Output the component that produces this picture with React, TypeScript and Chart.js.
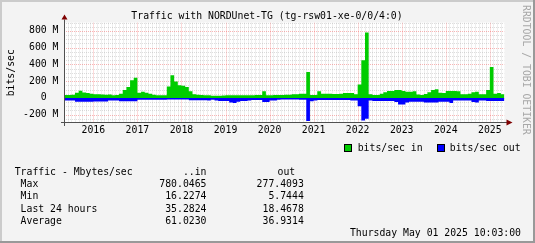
import { useEffect, useRef } from 'react';
import { Chart, registerables } from 'chart.js';

Chart.register(...registerables);

const TITLE = 'Traffic with NORDUnet-TG (tg-rsw01-xe-0/0/4:0)';
const Y_TITLE = 'bits/sec';
const WATERMARK = 'RRDTOOL / TOBI OETIKER';
const TIMESTAMP = 'Thursday May 01 2025 10:03:00';

// monthly buckets, starting May 2015
const START_YEAR = 2015;
const START_MONTH = 4;

// bits/sec in, in M
const inTraffic = [
  34, 34, 36, 60, 85, 65, 58, 50, 42, 42,
  40, 36, 40, 32, 34, 50, 95, 130, 210, 240,
  62, 72, 60, 50, 36, 32, 30, 32, 135, 270,
  195, 150, 145, 130, 80, 42, 36, 34, 30, 30,
  26, 26, 26, 28, 30, 30, 30, 30, 30, 30,
  30, 32, 34, 34, 78, 30, 30, 34, 34, 34,
  36, 36, 42, 42, 50, 50, 310, 34, 34, 78,
  50, 50, 50, 46, 46, 50, 58, 58, 58, 42,
  160, 450, 780, 42, 34, 34, 50, 66, 82, 82,
  95, 95, 82, 74, 74, 78, 40, 34, 45, 66,
  95, 102, 62, 58, 82, 82, 82, 78, 42, 42,
  50, 66, 74, 42, 42, 95, 370, 50, 58, 42,
];

// bits/sec out, in M (drawn below zero)
const outTraffic = [
  -30, -30, -30, -45, -45, -45, -45, -45, -42, -42,
  -42, -42, -30, -30, -30, -40, -40, -40, -40, -40,
  -22, -22, -22, -22, -22, -22, -22, -22, -20, -20,
  -20, -20, -20, -20, -28, -28, -28, -28, -28, -30,
  -22, -30, -38, -38, -38, -54, -60, -46, -38, -38,
  -30, -26, -26, -26, -50, -50, -30, -30, -22, -18,
  -18, -18, -18, -18, -22, -22, -277, -40, -30, -26,
  -26, -26, -26, -26, -26, -26, -26, -26, -30, -30,
  -100, -270, -250, -30, -38, -38, -38, -38, -38, -38,
  -50, -78, -80, -54, -46, -46, -46, -46, -54, -54,
  -54, -54, -46, -46, -46, -62, -30, -30, -30, -30,
  -30, -50, -54, -30, -30, -38, -38, -38, -38, -38,
];

const seriesLabels = ['bits/sec in', 'bits/sec out'];
const seriesColors = ['#00cc00', '#0000ff'];

const yearTicks = [2016, 2017, 2018, 2019, 2020, 2021, 2022, 2023, 2024, 2025];
const yTicks = [-200, 0, 200, 400, 600, 800];
const Y_MIN = -300;
const Y_MAX = 900;
const Y_MINOR = 50;

const statHeader = ['Traffic - Mbytes/sec', '..in', 'out'];
const statRows = ['Max', 'Min', 'Last 24 hours', 'Average'];
const statIn = ['780.0465', '16.2274', '35.2824', '61.0230'];
const statOut = ['277.4093', '5.7444', '18.4678', '36.9314'];

const FAMILY = '"DejaVu Sans Mono", monospace';
const FS = 9.8;
const font = (s: number = FS) => `${s}px ${FAMILY}`;

const monthX = (i: number) => START_YEAR + (START_MONTH + i) / 12;
const toPoints = (arr: number[]) => {
  const pts = arr.map((v, i) => ({ x: monthX(i), y: v }));
  pts.push({ x: monthX(arr.length), y: arr[arr.length - 1] });
  return pts;
};

const X_MIN = monthX(0);
const X_MAX = monthX(inTraffic.length);

const rrdPlugin = {
  id: 'rrdLook',
  beforeDraw(chart: any) {
    const { ctx, width, height, chartArea: a } = chart;
    ctx.save();
    ctx.fillStyle = '#f3f3f3';
    ctx.fillRect(0, 0, width, height);
    ctx.fillStyle = '#ffffff';
    ctx.fillRect(a.left, a.top, a.right - a.left, a.bottom - a.top);
    ctx.restore();
  },
  beforeDatasetsDraw(chart: any) {
    const { ctx, chartArea: a, scales } = chart;
    const xs = scales.x;
    const ys = scales.y;
    ctx.save();
    ctx.beginPath();
    ctx.rect(a.left, a.top, a.right - a.left, a.bottom - a.top);
    ctx.clip();
    ctx.lineWidth = 1;
    ctx.setLineDash([1, 1]);
    const hline = (v: number) => {
      const py = Math.round(ys.getPixelForValue(v)) + 0.5;
      ctx.beginPath();
      ctx.moveTo(a.left, py);
      ctx.lineTo(a.right, py);
      ctx.stroke();
    };
    const vline = (v: number) => {
      const px = Math.round(xs.getPixelForValue(v)) + 0.5;
      ctx.beginPath();
      ctx.moveTo(px, a.top);
      ctx.lineTo(px, a.bottom);
      ctx.stroke();
    };
    // minor grid
    ctx.strokeStyle = 'rgba(150,150,150,0.32)';
    for (let v = Y_MIN; v <= Y_MAX; v += Y_MINOR) {
      if (!yTicks.includes(v)) hline(v);
    }
    for (let m = 0; m <= inTraffic.length; m++) {
      if ((START_MONTH + m) % 12 !== 0) vline(monthX(m));
    }
    // major grid
    ctx.strokeStyle = 'rgba(240,60,60,0.38)';
    yTicks.forEach(hline);
    yearTicks.forEach(vline);
    ctx.restore();
  },
  afterDatasetsDraw(chart: any) {
    const { ctx, chartArea: a } = chart;
    ctx.save();
    ctx.setLineDash([]);
    ctx.lineWidth = 1;
    ctx.strokeStyle = '#505050';
    const axY = a.bottom + 0.5 - 1;
    const axX = a.left + 0.5;
    ctx.beginPath();
    ctx.moveTo(a.left - 3, axY);
    ctx.lineTo(a.right + 3, axY);
    ctx.moveTo(axX, a.bottom + 3);
    ctx.lineTo(axX, a.top - 3);
    ctx.stroke();
    ctx.fillStyle = '#7f0000';
    ctx.beginPath();
    ctx.moveTo(a.right + 2, axY - 3);
    ctx.lineTo(a.right + 8, axY);
    ctx.lineTo(a.right + 2, axY + 3);
    ctx.closePath();
    ctx.fill();
    ctx.beginPath();
    ctx.moveTo(axX - 3, a.top - 3);
    ctx.lineTo(axX, a.top - 8);
    ctx.lineTo(axX + 3, a.top - 3);
    ctx.closePath();
    ctx.fill();
    ctx.restore();
  },
  afterDraw(chart: any) {
    const { ctx, width, height } = chart;
    ctx.save();
    ctx.font = font();
    ctx.fillStyle = '#000';
    ctx.textBaseline = 'alphabetic';
    ctx.textAlign = 'center';
    ctx.fillText(TITLE, 267, 19);

    // legend
    ctx.textAlign = 'left';
    const legendBoxes = [344.5, 437.5];
    const legendText = [357.7, 449.8];
    seriesLabels.forEach((lab, i) => {
      ctx.fillStyle = seriesColors[i];
      ctx.fillRect(legendBoxes[i], 144.5, 7, 7);
      ctx.strokeStyle = '#000';
      ctx.lineWidth = 1;
      ctx.strokeRect(legendBoxes[i], 144.5, 7, 7);
      ctx.fillStyle = '#000';
      ctx.fillText(lab, legendText[i], 150.5);
    });

    // stats table
    const base0 = 174.6;
    const step = 12.3;
    ctx.textAlign = 'left';
    ctx.fillText(statHeader[0], 14.7, base0);
    ctx.textAlign = 'right';
    ctx.fillText(statHeader[1], 206.5, base0);
    ctx.fillText(statHeader[2], 295.2, base0);
    statRows.forEach((r, i) => {
      const by = base0 + step * (i + 1);
      ctx.textAlign = 'left';
      ctx.fillText(r, 20.6, by);
      ctx.textAlign = 'right';
      ctx.fillText(statIn[i], 206.5, by);
      ctx.fillText(statOut[i], 303.8, by);
    });
    ctx.fillText(TIMESTAMP, 521, base0 + step * 5);

    // watermark
    ctx.save();
    ctx.translate(526, 5);
    ctx.rotate(Math.PI / 2);
    ctx.textAlign = 'left';
    ctx.textBaseline = 'middle';
    ctx.fillStyle = '#a8a8a8';
    ctx.fillText(WATERMARK, 0, 0);
    ctx.restore();

    // frame shading
    ctx.fillStyle = '#cbcbcb';
    ctx.fillRect(0, 0, width, 2);
    ctx.fillRect(0, 0, 2, height);
    ctx.fillStyle = '#999999';
    ctx.fillRect(0, height - 2, width, 2);
    ctx.fillRect(width - 2, 0, 2, height);
    ctx.restore();
  },
};

export default function App() {
  const ref = useRef<HTMLCanvasElement | null>(null);
  useEffect(() => {
    if (!ref.current) return;
    const chart = new Chart(ref.current, {
      type: 'line',
      data: {
        datasets: [
          {
            label: seriesLabels[0],
            data: toPoints(inTraffic),
            stepped: true,
            fill: 'origin',
            backgroundColor: seriesColors[0],
            borderColor: 'rgba(0,0,0,0)',
            borderWidth: 0,
            pointRadius: 0,
          },
          {
            label: seriesLabels[1],
            data: toPoints(outTraffic),
            stepped: true,
            fill: 'origin',
            backgroundColor: seriesColors[1],
            borderColor: 'rgba(0,0,0,0)',
            borderWidth: 0,
            pointRadius: 0,
          },
        ],
      },
      options: {
        responsive: false,
        animation: false,
        devicePixelRatio: 1,
        events: [],
        layout: { padding: { left: 0, right: 30.5, top: 22.5, bottom: 0 } },
        plugins: { legend: { display: false }, tooltip: { enabled: false }, title: { display: false } },
        scales: {
          x: {
            type: 'linear',
            min: X_MIN,
            max: X_MAX,
            afterBuildTicks: (s: any) => {
              s.ticks = yearTicks.map((v) => ({ value: v }));
            },
            afterFit: (s: any) => {
              s.height = 243 - 123;
            },
            grid: { display: false, drawTicks: false },
            border: { display: false },
            ticks: {
              autoSkip: false,
              maxRotation: 0,
              minRotation: 0,
              padding: 2,
              color: '#000',
              font: { family: FAMILY, size: FS },
              callback: (v: any) => String(v),
            },
          },
          y: {
            type: 'linear',
            min: Y_MIN,
            max: Y_MAX,
            afterBuildTicks: (s: any) => {
              s.ticks = yTicks.map((v) => ({ value: v }));
            },
            afterFit: (s: any) => {
              s.width = 64;
            },
            grid: { display: false, drawTicks: false },
            border: { display: false },
            ticks: {
              padding: 5.5,
              color: '#000',
              font: { family: FAMILY, size: FS },
              callback: (v: any) => (v === 0 ? '0  ' : `${v} M`),
            },
            title: {
              display: true,
              text: Y_TITLE,
              color: '#000',
              font: { family: FAMILY, size: FS },
              padding: { top: 6, bottom: 0 },
            },
          },
        },
      },
      plugins: [rrdPlugin],
    } as any);
    return () => chart.destroy();
  }, []);
  return (
    <div style={{ position: 'absolute', left: 0, top: 0, width: 535, height: 243 }}>
      <canvas ref={ref} width={535} height={243} style={{ display: 'block' }} />
    </div>
  );
}
